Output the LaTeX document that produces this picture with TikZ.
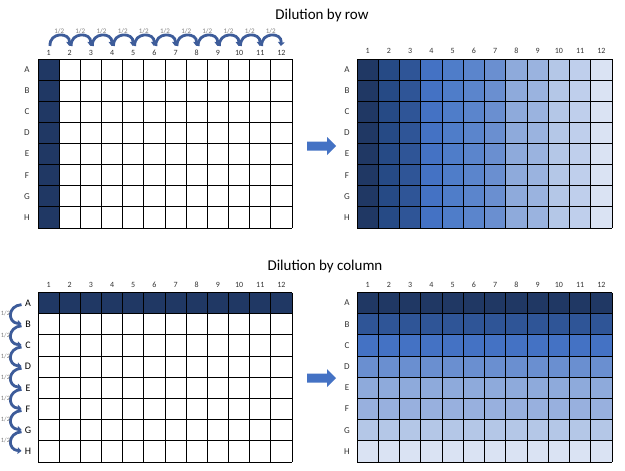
\documentclass[tikz,border=0pt]{standalone}
\usepackage{fontspec}
\setmainfont{Carlito}
\usetikzlibrary{arrows.meta}
\definecolor{d1}{HTML}{203864}
\definecolor{d2}{HTML}{264A85}
\definecolor{d3}{HTML}{2F5597}
\definecolor{d4}{HTML}{4472C4}
\definecolor{d5}{HTML}{4F7DC9}
\definecolor{d6}{HTML}{5B85CC}
\definecolor{d7}{HTML}{6A8FD0}
\definecolor{d8}{HTML}{8EAADB}
\definecolor{d9}{HTML}{9AB3DF}
\definecolor{d10}{HTML}{B4C7E7}
\definecolor{d11}{HTML}{BFCFEC}
\definecolor{d12}{HTML}{DAE3F3}
\definecolor{e1}{HTML}{203864}
\definecolor{e2}{HTML}{2F5597}
\definecolor{e3}{HTML}{4472C4}
\definecolor{e4}{HTML}{6A8FD0}
\definecolor{e5}{HTML}{8EAADB}
\definecolor{e6}{HTML}{98B0DE}
\definecolor{e7}{HTML}{B4C7E7}
\definecolor{e8}{HTML}{DAE3F3}
\definecolor{arcblue}{HTML}{3D5C9A}
\definecolor{arrowblue}{HTML}{4472C4}
\definecolor{labgray}{HTML}{333333}
\begin{document}
\begin{tikzpicture}[x=1pt,y=-1pt,
  gl/.style={line width=0.9pt,black},
  numlab/.style={inner sep=0pt,text=labgray,font=\fontsize{8}{9}\selectfont},
  letlab/.style={inner sep=0pt,text=labgray,font=\fontsize{9}{10}\selectfont},
  halflab/.style={inner sep=0pt,text=gray,font=\fontsize{7}{8}\selectfont},
  title/.style={inner sep=0pt,text=black,font=\fontsize{15}{18}\selectfont},
  arc/.style={line width=2.8pt,arcblue,-{Triangle[length=3.8pt,width=6.5pt]}},
  blockarrow/.style={fill=arrowblue}]
\useasboundingbox (0,0) rectangle (625,471);
\fill[white] (0,0) rectangle (625,471);

% titles
\node[title] (t1) at (322,16) {Dilution by row};
\node[title] (t2) at (325,266) {Dilution by column};

% ---------- top-left plate ----------
\fill[d1] (38,59) rectangle ++(21.1667,169);
\foreach \i in {0,...,12} \draw[gl] ({38+\i*21.1667},59) -- ++(0,169);
\foreach \j in {0,...,8} \draw[gl] (38,{59+\j*21.125}) -- ++(254,0);
\foreach \i in {1,...,12} \node[numlab] (tln\i) at ({38+(\i-0.5)*21.1667},52.5) {\i};
\foreach \l [count=\j] in {A,B,C,D,E,F,G,H} \node[letlab] (tll\j) at (27,{59+(\j-0.5)*21.125}) {\l};
\foreach \i in {1,...,12} \coordinate (ta\i) at ({38+(\i-0.5)*21.1667},46);
\foreach \i [evaluate=\i as \n using int(\i+1)] in {1,...,11} {
  \draw[arc] ([xshift=1.5pt]ta\i) to[out=95,in=85,looseness=1.9] ([xshift=-0.5pt]ta\n);
  \node[halflab] (th\i) at ({38+\i*21.1667},31) {1/2};
}

% ---------- top-right plate ----------
\foreach \i in {1,...,12} \fill[d\i] ({357+(\i-1)*21.25},59) rectangle ++(21.25,169);
\foreach \i in {0,...,12} \draw[gl] ({357+\i*21.25},59) -- ++(0,169);
\foreach \j in {0,...,8} \draw[gl] (357,{59+\j*21.125}) -- ++(255,0);
\foreach \i in {1,...,12} \node[numlab] (trn\i) at ({357+(\i-0.5)*21.25},51) {\i};
\foreach \l [count=\j] in {A,B,C,D,E,F,G,H} \node[letlab] (trl\j) at (347,{59+(\j-0.5)*21.125}) {\l};

\fill[blockarrow] (307,141.5) -- (327,141.5) -- (327,137) -- (336,146) -- (327,155) -- (327,150.5) -- (307,150.5) -- cycle;

% ---------- bottom-left plate ----------
\fill[e1] (38,292.5) rectangle ++(254,21.19);
\foreach \i in {0,...,12} \draw[gl] ({38+\i*21.1667},292.5) -- ++(0,169.5);
\foreach \j in {0,...,8} \draw[gl] (38,{292.5+\j*21.19}) -- ++(254,0);
\foreach \i in {1,...,12} \node[numlab] (bln\i) at ({38+(\i-0.5)*21.1667},285) {\i};
\foreach \l [count=\j] in {A,B,C,D,E,F,G,H} \node[letlab,text=black,font=\fontsize{10}{11}\selectfont] (bll\j) at (28,{292.5+(\j-0.5)*21.19}) {\l};
\foreach \j in {1,...,8} \coordinate (ba\j) at (21.5,{292.5+(\j-0.5)*21.19});
\foreach \j [evaluate=\j as \n using int(\j+1)] in {1,...,7} {
  \draw[arc] ([yshift=-1.5pt]ba\j) to[out=185,in=175,looseness=1.9] ([yshift=0.5pt]ba\n);
  \node[halflab,font=\fontsize{6.5}{7}\selectfont] (bh\j) at (5.5,{292.5+\j*21.19}) {1/2};
}

% ---------- bottom-right plate ----------
\foreach \j in {1,...,8} \fill[e\j] (357,{292.5+(\j-1)*21.19}) rectangle ++(255,21.19);
\foreach \i in {0,...,12} \draw[gl] ({357+\i*21.25},292.5) -- ++(0,169.5);
\foreach \j in {0,...,8} \draw[gl] (357,{292.5+\j*21.19}) -- ++(255,0);
\foreach \i in {1,...,12} \node[numlab] (brn\i) at ({357+(\i-0.5)*21.25},284.5) {\i};
\foreach \l [count=\j] in {A,B,C,D,E,F,G,H} \node[letlab] (brl\j) at (347,{292.5+(\j-0.5)*21.19}) {\l};

\fill[blockarrow] (307,373.5) -- (327,373.5) -- (327,369) -- (336,378) -- (327,387) -- (327,382.5) -- (307,382.5) -- cycle;
\end{tikzpicture}
\end{document}
